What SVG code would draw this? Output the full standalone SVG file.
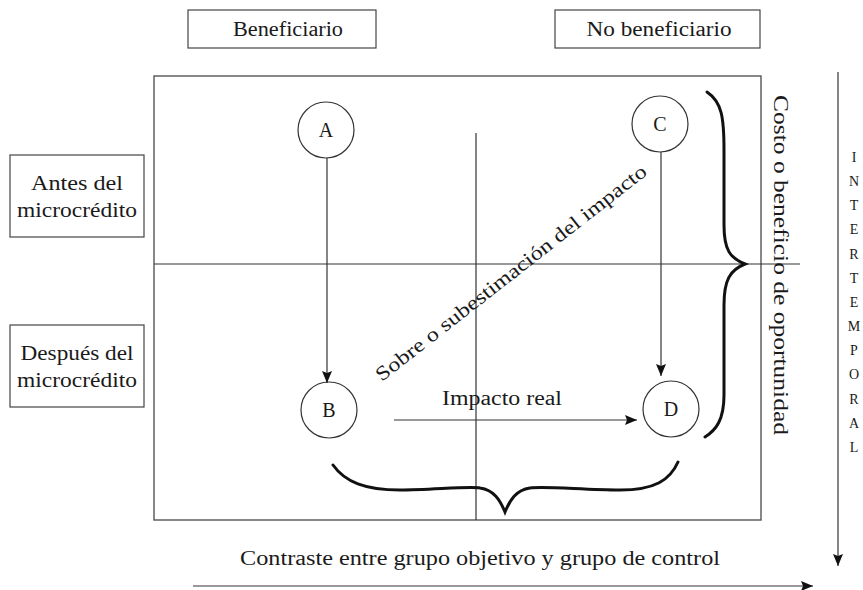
<svg xmlns="http://www.w3.org/2000/svg" width="863" height="590" viewBox="0 0 863 590">
<style>
text{font-family:"Liberation Serif","DejaVu Serif",serif;fill:#1a1a1a;}
.lbl{font-size:20px;text-anchor:middle;}
.box{fill:#fff;stroke:#444;stroke-width:1.2;}
.ln{stroke:#333;stroke-width:1.2;fill:none;}
.brace{stroke:#111;stroke-width:3;fill:none;stroke-linecap:round;}
.node{fill:#fff;stroke:#333;stroke-width:1.2;}
</style>
<defs>
<marker id="ah" markerWidth="12" markerHeight="10" refX="12" refY="5" orient="auto" markerUnits="userSpaceOnUse">
<path d="M0,0 L12,5 L0,10 L2,5 Z" fill="#111"/>
</marker>
</defs>
<g id="frame">
<rect x="154" y="76" width="607" height="444" fill="none" stroke="#555" stroke-width="1.4"/>
<line class="ln" x1="154" y1="264" x2="800" y2="264"/>
<line class="ln" x1="476" y1="133" x2="476" y2="520"/>
</g>
<g id="beneficiario"><rect class="box" x="188" y="10" width="188" height="38"/><text class="lbl" x="288" y="36" textLength="110" lengthAdjust="spacingAndGlyphs">Beneficiario</text></g>
<g id="no-beneficiario"><rect class="box" x="555" y="10" width="205" height="38"/><text class="lbl" x="659" y="36" textLength="145" lengthAdjust="spacingAndGlyphs">No beneficiario</text></g>
<g id="antes"><rect class="box" x="10" y="155" width="134" height="82"/><text class="lbl" x="77" y="190" textLength="92" lengthAdjust="spacingAndGlyphs">Antes del</text><text class="lbl" x="77" y="217" textLength="120" lengthAdjust="spacingAndGlyphs">microcrédito</text></g>
<g id="despues"><rect class="box" x="10" y="325" width="134" height="82"/><text class="lbl" x="77" y="360" textLength="113" lengthAdjust="spacingAndGlyphs">Después del</text><text class="lbl" x="77" y="387" textLength="120" lengthAdjust="spacingAndGlyphs">microcrédito</text></g>
<g id="nodeA"><circle class="node" cx="326" cy="130" r="28"/><text class="lbl" x="326" y="137">A</text></g>
<g id="nodeB"><circle class="node" cx="329" cy="410" r="28"/><text class="lbl" x="329" y="417">B</text></g>
<g id="nodeC"><circle class="node" cx="660" cy="124" r="28"/><text class="lbl" x="660" y="131">C</text></g>
<g id="nodeD"><circle class="node" cx="671" cy="409" r="28"/><text class="lbl" x="671" y="416">D</text></g>
<g id="connectors">
<line class="ln" x1="327" y1="158" x2="327" y2="383" marker-end="url(#ah)"/>
<line class="ln" x1="661" y1="152" x2="661" y2="376" marker-end="url(#ah)"/>
<line class="ln" x1="394" y1="420" x2="637" y2="420" marker-end="url(#ah)"/>
<line class="ln" x1="838" y1="72" x2="838" y2="566" marker-end="url(#ah)"/>
<line class="ln" x1="193" y1="586" x2="813" y2="586" marker-end="url(#ah)"/>
</g>
<g id="braces">
<path class="brace" d="M707,92 C722,102 724,118 724,150 L724,225 C724,250 730,258 745,264 C730,270 724,280 724,305 L724,395 C724,420 716,430 705,437"/>
<path class="brace" d="M333,465 C345,482 365,490 400,490 C430,490 470,486 480,488 C494,490 500,500 505,512 C510,500 516,490 530,488 C545,486 585,490 620,490 C655,490 670,480 678,462"/>
</g>
<g id="labels">
<text class="lbl" x="502" y="405" textLength="120" lengthAdjust="spacingAndGlyphs">Impacto real</text>
<text class="lbl" transform="translate(515,278) rotate(-38)" textLength="338" lengthAdjust="spacingAndGlyphs">Sobre o subestimación del impacto</text>
<text class="lbl" transform="translate(774,265) rotate(90)" textLength="340" lengthAdjust="spacingAndGlyphs">Costo o beneficio de oportunidad</text>
<text class="lbl" x="480" y="565" textLength="480" lengthAdjust="spacingAndGlyphs">Contraste entre grupo objetivo y grupo de control</text>
<g style="font-size:14px;text-anchor:middle">
<text x="854" y="162">I</text><text x="854" y="186">N</text><text x="854" y="210">T</text><text x="854" y="234">E</text><text x="854" y="259">R</text><text x="854" y="283">T</text><text x="854" y="307">E</text><text x="854" y="331">M</text><text x="854" y="355">P</text><text x="854" y="379">O</text><text x="854" y="404">R</text><text x="854" y="428">A</text><text x="854" y="452">L</text>
</g>
</g>
</svg>
